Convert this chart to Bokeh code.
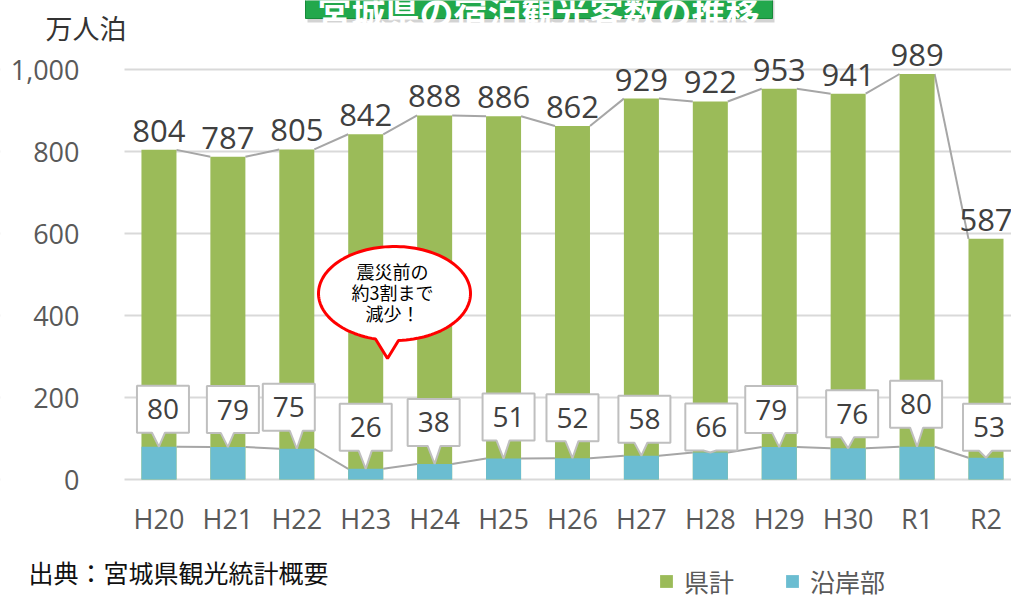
import numpy as np
from bokeh.plotting import figure
from bokeh.models import Range1d, FixedTicker, NumeralTickFormatter, Label, Legend, LegendItem, LinearAxis
from bokeh.core.properties import value
from bokeh.embed import file_html
from bokeh.resources import INLINE

# ---------------- data ----------------
years = ["H20", "H21", "H22", "H23", "H24", "H25", "H26", "H27", "H28", "H29", "H30", "R1", "R2"]
prefecture_total = [804, 787, 805, 842, 888, 886, 862, 929, 922, 953, 941, 989, 587]
coastal = [80, 79, 75, 26, 38, 51, 52, 58, 66, 79, 76, 80, 53]
y_ticks = [0, 200, 400, 600, 800, 1000]
series_names = ["県計", "沿岸部"]
title_text = "宮城県の宿泊観光客数の推移"
unit_text = "万人泊"
source_text = "出典：宮城県観光統計概要"
bubble_lines = ["震災前の", "約3割まで", "減少！"]

# callout label layout (pixels: gap above bar top, horizontal shift)
callout_gap_px = [14, 14, 18, 18, 18, 18, 17, 13, 2, 14, 11, 19, 7]
callout_dx_px = [4, 5, -8, 0, -1, 5, 0, 3, 1, -8, 4, -1, 3]

# ---------------- styles / layout ----------------
GREEN = "#9BBB59"
BLUE = "#6BBDD1"
GRID = "#D9D9D9"
SERIES_LINE = "#A6A6A6"
TXT = "#404040"
TICK = "#595959"
NUM_FONT = "Open Sans"
JP_FONT = "Noto Sans CJK JP"

W, H = 1011, 598
PX_PER_CAT = 68.92
PX_PER_Y = 0.41
PLOT_LEFT_PX, PLOT_BOTTOM_PX = 124, 479   # plot-area corner inside the canvas
kx = 1.0 / PX_PER_CAT
ky = 1.0 / PX_PER_Y
x_first = -0.5                             # data x at the plot-area left edge
BAR_W = 0.508
TOTAL_LABEL_GAP_PX = 19


def X(px):
    return x_first + (px - PLOT_LEFT_PX) * kx


def Y(py):
    return (PLOT_BOTTOM_PX - py) * ky


n = len(years)
idx = list(range(n))

p = figure(width=W, height=H, x_range=Range1d(X(0), X(W)), y_range=Range1d(Y(H), Y(0)),
           output_backend="svg", toolbar_location=None, x_axis_location=None, y_axis_location=None,
           min_border_left=0, min_border_right=0, min_border_top=0, min_border_bottom=0)
p.outline_line_color = None
p.background_fill_color = "white"
p.border_fill_color = "white"

# axes at fixed locations (plot-area edges)
yax = LinearAxis(fixed_location=x_first, ticker=FixedTicker(ticks=y_ticks),
                 formatter=NumeralTickFormatter(format="0,0"))
yax.axis_line_color = None
yax.major_tick_line_color = None
yax.minor_tick_line_color = None
yax.major_label_text_font = NUM_FONT
yax.major_label_text_font_size = "27px"
yax.major_label_text_color = TICK
yax.major_label_standoff = 39
p.add_layout(yax, "left")

xax = LinearAxis(fixed_location=0, ticker=FixedTicker(ticks=idx))
xax.major_label_overrides = {i: y for i, y in enumerate(years)}
xax.axis_line_color = None
xax.major_tick_line_color = None
xax.minor_tick_line_color = None
xax.major_label_text_font = NUM_FONT
xax.major_label_text_font_size = "27px"
xax.major_label_text_color = TICK
xax.major_label_standoff = 14
p.add_layout(xax, "below")

p.xgrid.grid_line_color = None
p.ygrid.ticker = FixedTicker(ticks=y_ticks)
p.ygrid.grid_line_color = GRID
p.ygrid.grid_line_width = 2

# blank margin left of plot area (hides grid there)
p.quad(left=[X(0)], right=[x_first], bottom=[Y(H)], top=[Y(0)], fill_color="white", line_color=None)

# ---- title box (cut off at top) ----
tl, tr, tb = X(305), X(772), Y(18)
p.quad(left=[tl + 2 * kx], right=[tr + 2 * kx], bottom=[tb - 4 * ky], top=[Y(0) + 50],
       fill_color="#808080", fill_alpha=0.35, line_color=None)
p.quad(left=[tl], right=[tr], bottom=[tb], top=[Y(0) + 50],
       fill_color="#22A84C", line_color="#178A3A", line_width=1)
p.add_layout(Label(x=X(538), y=Y(11), text=title_text, text_align="center",
                   text_baseline="alphabetic", text_color="white", text_font=JP_FONT,
                   text_font_size="34px", text_font_style="bold"))

# ---- series lines ----
hw = BAR_W / 2
for vals in (prefecture_total, coastal):
    p.segment(x0=[i + hw for i in idx[:-1]], y0=vals[:-1],
              x1=[i + 1 - hw for i in idx[:-1]], y1=vals[1:],
              line_color=SERIES_LINE, line_width=2)

# ---- bars ----
g = p.vbar(x=idx, top=prefecture_total, width=BAR_W, fill_color=GREEN, line_color=None)
b = p.vbar(x=idx, top=coastal, width=BAR_W, fill_color=BLUE, line_color=None)

# ---- total labels ----
p.text(x=idx, y=[v + TOTAL_LABEL_GAP_PX * ky for v in prefecture_total],
       text=[str(v) for v in prefecture_total],
       text_align="center", text_baseline="alphabetic",
       text_font=value(NUM_FONT), text_font_size="31px", text_color=TXT)

# ---- coastal callouts ----
BOX_W, BOX_H = 52, 47
xs, ys, cx, cy = [], [], [], []
for i, v in enumerate(coastal):
    xc = i + callout_dx_px[i] * kx
    L, R = xc - BOX_W / 2 * kx, xc + BOX_W / 2 * kx
    B = v + callout_gap_px[i] * ky
    T = B + BOX_H * ky
    bl = max(i - 7 * kx, L + 2 * kx)
    br = min(i + 6 * kx, R - 2 * kx)
    xs.append([L, bl, i, br, R, R, L])
    ys.append([B, B, v, B, B, T, T])
    cx.append(xc)
    cy.append((B + T) / 2)
p.patches(xs=xs, ys=ys, fill_color="white", line_color="#BFBFBF", line_width=2)
p.text(x=cx, y=cy, text=[str(v) for v in coastal], text_align="center", text_baseline="middle",
       text_font=value(NUM_FONT), text_font_size="28px", text_color=TXT)

# ---- speech bubble ----
bcx, bcy, rx, ry = 394, 293, 76, 47
tip_dx, tip_dy = -7, -65
base_l, base_r = -19, 4
th_l = 2 * np.pi - np.arccos(base_l / rx)
th_r = 2 * np.pi - np.arccos(base_r / rx)
th = np.linspace(th_r, th_l + 2 * np.pi, 120)
px = list(rx * np.cos(th)) + [tip_dx]
py = list(ry * np.sin(th)) + [tip_dy]
bx = [X(bcx) + dx * kx for dx in px]
by = [Y(bcy) + dy * ky for dy in py]
p.patch(x=bx, y=by, fill_color="white", line_color="#FF0000", line_width=3)
for ln, yy in zip(bubble_lines, [270, 291, 312]):
    p.add_layout(Label(x=X(392), y=Y(yy), text=ln, text_align="center", text_baseline="middle",
                       text_font=JP_FONT, text_font_size="18px", text_color="#000000"))

# ---- unit label, source ----
p.add_layout(Label(x=X(45), y=Y(27), text=unit_text, text_align="left", text_baseline="middle",
                   text_font=JP_FONT, text_font_size="27px", text_color="#333333"))
p.add_layout(Label(x=X(28), y=Y(571), text=source_text, text_align="left", text_baseline="middle",
                   text_font=JP_FONT, text_font_size="25px", text_color="#111111"))

# ---- legend ----
legend = Legend(items=[LegendItem(label=series_names[0], renderers=[g]),
                       LegendItem(label=series_names[1], renderers=[b])],
                orientation="horizontal", location=(658, -1),
                background_fill_alpha=0, border_line_color=None, padding=0, margin=0,
                spacing=50, label_standoff=10, glyph_width=16, glyph_height=16,
                label_text_font=JP_FONT, label_text_font_size="25px", label_text_color=TICK)
p.add_layout(legend)

open("out.html", "w").write(file_html(p, INLINE))
